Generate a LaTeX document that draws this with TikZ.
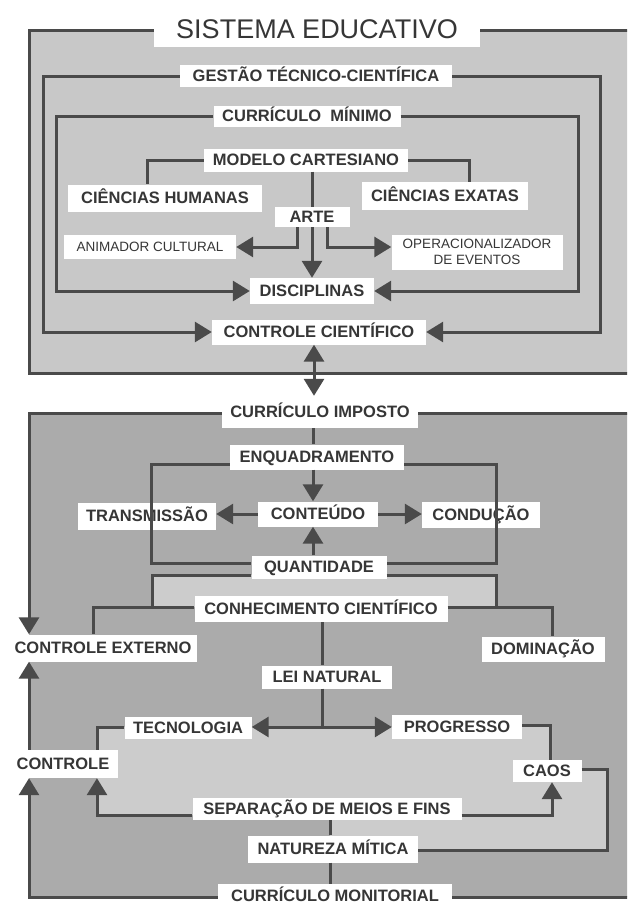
\documentclass[tikz,border=0pt]{standalone}
\usepackage{fontspec}
\setmainfont{Liberation Sans}
\usetikzlibrary{arrows.meta}
\definecolor{lc}{HTML}{4A4A4A}
\definecolor{tc}{HTML}{363636}
\definecolor{topbg}{HTML}{C8C8C8}
\definecolor{botbg}{HTML}{ABABAB}
\definecolor{litebg}{HTML}{CCCCCC}
\begin{document}
\begin{tikzpicture}[x=1pt,y=-1pt,
  box/.style={fill=white, inner sep=0pt, text=tc, minimum height=24pt, text height=11.8pt, text depth=0pt, font=\fontsize{16.5}{18}\selectfont\bfseries},
  sbox/.style={fill=white, inner sep=0pt, text=tc, font=\fontsize{13.5}{15.5}\selectfont},
  ln/.style={draw=lc, line width=3pt},
  tipx/.tip={Triangle[length=17pt,width=20pt]},
  arr/.style={ln, -tipx},
  darr/.style={ln, tipx-tipx}
]
\clip (0,0) rectangle (627,905);
\fill[white] (0,0) rectangle (627,905);
% panels
\fill[topbg] (29,30) rectangle (640,373);
\fill[botbg] (29,413) rectangle (640,897);
\fill[litebg] (152,575) rectangle (496,607);
\fill[litebg] (97,727) -- (552,727) -- (552,769) -- (607,769) -- (607,850) -- (330,850) -- (330,815) -- (97,815) -- cycle;

% ---- top panel nodes
\node[box, minimum width=326pt, minimum height=37pt, text height=19pt, font=\fontsize{27}{30}\selectfont] (title) at (317,28.5) {SISTEMA EDUCATIVO};
\node[box, minimum width=272pt, minimum height=22pt] (gestao) at (316,76) {GESTÃO TÉCNICO-CIENTÍFICA};
\node[box, minimum width=187pt, minimum height=21pt] (curmin) at (307,116) {CURRÍCULO\ \ MÍNIMO};
\node[box, minimum width=204pt, minimum height=23pt] (modelo) at (306,160) {MODELO CARTESIANO};
\node[box, minimum width=194pt, minimum height=27pt] (cienh) at (165,198) {CIÊNCIAS HUMANAS};
\node[box, minimum width=166pt, minimum height=28pt] (ciene) at (445,196) {CIÊNCIAS EXATAS};
\node[box, minimum width=75pt, minimum height=20pt] (arte) at (312,217) {ARTE};
\node[sbox, minimum width=172pt, minimum height=24pt, text height=9.7pt, text depth=0pt] (anim) at (150,247) {ANIMADOR CULTURAL};
\node[sbox, minimum width=171pt, minimum height=35pt, align=center] (oper) at (477,252) {OPERACIONALIZADOR\\DE EVENTOS};
\node[box, minimum width=124pt, minimum height=26pt] (disc) at (312,291) {DISCIPLINAS};
\node[box, minimum width=214pt, minimum height=25pt] (ctrlcien) at (319,332) {CONTROLE CIENTÍFICO};

% ---- bottom panel nodes
\node[box, minimum width=196pt, minimum height=32pt] (curimp) at (320,412) {CURRÍCULO IMPOSTO};
\node[box, minimum width=174pt, minimum height=25pt] (enq) at (317,457) {ENQUADRAMENTO};
\node[box, minimum width=120pt, minimum height=25pt] (cont) at (318,514) {CONTEÚDO};
\node[box, minimum width=138pt, minimum height=27pt] (trans) at (147,516) {TRANSMISSÃO};
\node[box, minimum width=118pt, minimum height=26pt] (cond) at (481,515) {CONDUÇÃO};
\node[box, minimum width=135pt, minimum height=23pt] (quant) at (319,567) {QUANTIDADE};
\node[box, minimum width=253pt, minimum height=26pt] (conh) at (321,609) {CONHECIMENTO CIENTÍFICO};
\node[box, minimum width=187pt, minimum height=27pt] (ctrlext) at (103,648) {CONTROLE EXTERNO};
\node[box, minimum width=123pt, minimum height=25pt] (dom) at (543,649) {DOMINAÇÃO};
\node[box, minimum width=130pt, minimum height=23pt] (lei) at (327,677) {LEI NATURAL};
\node[box, minimum width=127pt, minimum height=22pt] (tec) at (188,728) {TECNOLOGIA};
\node[box, minimum width=130pt, minimum height=24pt] (prog) at (457,727) {PROGRESSO};
\node[box, minimum width=110pt, minimum height=28pt] (ctrl) at (63,764) {CONTROLE};
\node[box, minimum width=69pt, minimum height=22pt] (caos) at (547,771) {CAOS};
\node[box, minimum width=269pt, minimum height=22pt] (sep) at (327,809) {SEPARAÇÃO DE MEIOS E FINS};
\node[box, minimum width=170pt, minimum height=27pt] (nat) at (333,849) {NATUREZA MÍTICA};
\node[box, minimum width=234pt, minimum height=24pt] (mon) at (335,896) {CURRÍCULO MONITORIAL};

% ---- top panel lines
\draw[ln] (title.west |- 0,30) -- (29,30) -- (29,373) -- (640,373);
\draw[ln] (title.east |- 0,30) -- (640,30);
\draw[arr] (gestao.west) -| (43,332) -- (ctrlcien.west);
\draw[arr] (gestao.east) -| (600,332) -- (ctrlcien.east);
\draw[arr] (curmin.west) -| (56,291) -- (disc.west);
\draw[arr] (curmin.east) -| (578,291) -- (disc.east);
\draw[ln] (modelo.west) -| ([xshift=-18pt]cienh.north);
\draw[ln] (modelo.east) -| ([xshift=24pt]ciene.north);
\draw[ln] (modelo.south -| arte.north) -- (arte.north);
\draw[arr] (arte.south) -- (disc.north);
\draw[arr] ([xshift=-15pt]arte.south) |- (anim.east);
\draw[arr] ([xshift=15pt]arte.south) |- (oper.west |- anim.east);
\draw[darr] (ctrlcien.south -| 314,0) -- (curimp.north -| 314,0);

% ---- bottom panel lines
\draw[arr] (curimp.west |- 0,413) -| (ctrlext.north -| 29,0);
\draw[ln] (curimp.east |- 0,413) -- (640,413);
\draw[arr] (ctrl.north -| 29,0) -- (ctrlext.south -| 29,0);
\draw[arr] (mon.west |- 0,897) -| (ctrl.south -| 29,0);
\draw[ln] (mon.east |- 0,897) -- (640,897);

\draw[ln] (curimp.south -| 313,0) -- (enq.north -| 313,0);
\draw[arr] (enq.south -| 313,0) -- (cont.north -| 313,0);
\draw[ln] (enq.west |- 0,464) -| (151,563) -- (quant.west |- 0,563);
\draw[ln] (enq.east |- 0,464) -| (496,563) -- (quant.east |- 0,563);
\draw[arr] (cont.west) -- (trans.east |- cont.west);
\draw[arr] (cont.east) -- (cond.west |- cont.east);
\draw[arr] (quant.north -| 313,0) -- (cont.south -| 313,0);

\draw[ln] (quant.west |- 0,575) -| (152,607);
\draw[ln] (quant.east |- 0,575) -| (496,607);
\draw[ln] (conh.west |- 0,607) -| (ctrlext.north -| 93,0);
\draw[ln] (conh.east |- 0,607) -| (dom.north -| 552,0);
\draw[ln] (conh.south -| 322,0) -- (lei.north -| 322,0);
\coordinate (j) at (322,727);
\draw[ln] (lei.south -| 322,0) -- (j);
\draw[arr] (j) -- (tec.east |- j);
\draw[arr] (j) -- (prog.west |- j);

\draw[ln] (tec.west |- 0,727) -| (ctrl.north -| 97,0);
\draw[arr] (sep.west |- 0,815) -| (ctrl.south -| 97,0);
\draw[ln] (prog.east |- 0,725) -| (caos.north -| 550,0);
\draw[arr] (sep.east |- 0,815) -| (caos.south -| 552,0);
\draw[ln] (caos.east |- 0,769) -| (607,850) -- (nat.east |- 0,850);
\draw[ln] (sep.south -| 330,0) -- (nat.north -| 330,0);
\draw[ln] (nat.south -| 330,0) -- (mon.north -| 330,0);
\end{tikzpicture}
\end{document}
